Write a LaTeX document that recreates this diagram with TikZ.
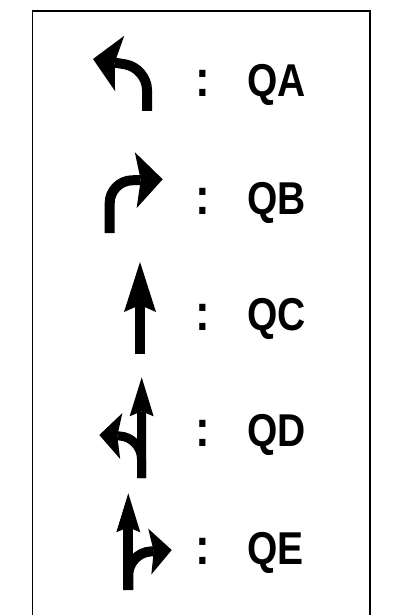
\documentclass[tikz,border=0pt]{standalone}
\usepackage{fontspec}
\setmainfont{Liberation Sans}
\usetikzlibrary{arrows.meta, positioning}
\newcommand{\tallq}[1]{\scalebox{1}[1.18]{#1}}

\begin{document}
\begin{tikzpicture}[x=1pt, y=-1pt,
    lane/.style={line width=10pt},
    turn/.style={lane, rounded corners=22pt},
    bighead/.style={-{Stealth[length=27pt, width=56pt, inset=5pt, line width=0pt]}},
    smallhead/.style={-{Stealth[length=22pt, width=46pt, inset=4pt, line width=0pt]}},
    uphead/.style={-{Stealth[length=50pt, width=32pt, inset=7pt, line width=0pt]}},
    thinup/.style={-{Stealth[length=39pt, width=24pt, inset=5pt, line width=0pt]}},
    colon/.style={font=\fontsize{44}{44}\selectfont\bfseries, inner sep=0pt, anchor=base},
    lbl/.style={font=\fontsize{39}{39}\selectfont\bfseries, inner sep=0pt}]
  \useasboundingbox (0,0) rectangle (392,615);
  \draw[line width=1.7pt] (32.5,615) |- (370.2,10.8) -- (370.2,615);

  % the five lanes
  \draw[turn, bighead] (147,111) -- (147,68) -- (93,59);
  \draw[turn, bighead] (109.7,233) -- (109.7,181) -- (162.7,179.3);
  \draw[lane, uphead] (140,354) -- (140,262);
  \draw[lane, line width=9pt, thinup] (141.5,478) -- (141.7,377.3);
  \draw[turn, line width=9pt, smallhead] (141.5,478) -- (141.5,437) -- (99.3,435);
  \draw[lane, thinup] (128.3,590) -- (128.3,493.3);
  \draw[turn, smallhead] (128.3,590) -- (128.3,553) -- (171.7,550);

  % legend
  \node[colon] (cA) at (202.5,97) {\tallq{:}};
  \node[colon] (cB) at (202.5,214) {\tallq{:}};
  \node[colon] (cC) at (202.5,330) {\tallq{:}};
  \node[colon] (cD) at (202.5,446) {\tallq{:}};
  \node[colon] (cE) at (202.5,564) {\tallq{:}};
  \node[lbl, base right=37pt of cA] (qA) {\tallq{QA}};
  \node[lbl, base right=37pt of cB] (qB) {\tallq{QB}};
  \node[lbl, base right=37pt of cC] (qC) {\tallq{QC}};
  \node[lbl, base right=37pt of cD] (qD) {\tallq{QD}};
  \node[lbl, base right=37pt of cE] (qE) {\tallq{QE}};
\end{tikzpicture}
\end{document}
